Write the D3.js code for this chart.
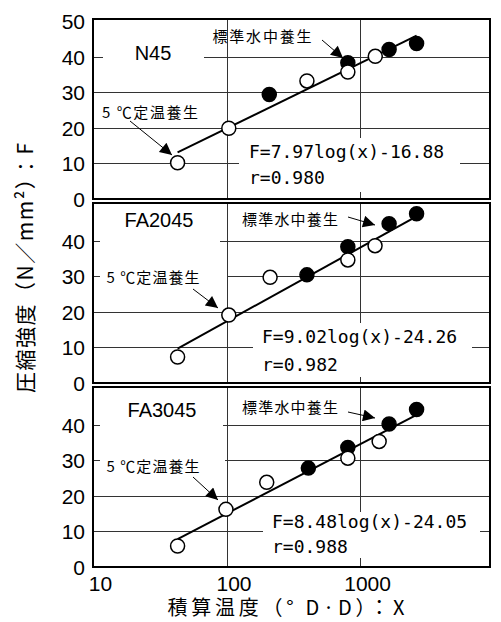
<!DOCTYPE html>
<html>
<head>
<meta charset="utf-8">
<script src="https://cdn.jsdelivr.net/npm/d3@7"></script>
<style>
  body { margin: 0; background: #fff; }
  svg { display: block; }
  .num { font-family: "Liberation Sans", Arial, sans-serif; font-size: 21px; fill: #000; }
  .jp { font-family: "Noto Sans CJK JP", sans-serif; fill: #000; }
  .eq { font-family: "DejaVu Sans Mono", monospace; font-size: 18px; fill: #000; }
</style>
</head>
<body>
<div id="chart"></div>
<script>
// panels
const panelNames = ["N45", "FA2045", "FA3045"]

// 5℃定温養生 (open circles)
const openX = [
  [43, 104, 400, 810, 1300],
  [43, 104, 212, 810, 1295],
  [43, 99, 200, 810, 1390]
]
const openY = [
  [10.2, 19.9, 33.2, 35.7, 40.1],
  [7.3, 19.1, 29.7, 34.6, 38.6],
  [5.9, 16.2, 23.8, 30.6, 35.3]
]

// 標準水中養生 (filled circles)
const fillX = [
  [209, 810, 1650, 2650],
  [400, 810, 1650, 2650],
  [410, 810, 1650, 2650]
]
const fillY = [
  [29.4, 38.3, 42.0, 43.7],
  [30.4, 38.3, 44.8, 47.6],
  [27.8, 33.6, 40.2, 44.3]
]

// regression F = a*log(x) + b  (natural log)
const coefA = [7.97, 9.02, 8.48]
const coefB = [-16.88, -24.26, -24.05]
const rValues = ["0.980", "0.982", "0.988"]
const lineX = [43, 2650]

const xTicks = [10, 100, 1000]
const yTicksTop = [0, 10, 20, 30, 40, 50]
const yTicks = [0, 10, 20, 30, 40]

const W = 501, H = 622
const left = 93, right = 490
const panelTops = [19, 203, 387]
const panelH = 180

// label / annotation layout per panel (pixels, relative to panel top)
const layout = [
  { name: [153, 34], nameBox: [103, 22, 101, 28],
    std: [262, 18, 99], stdArrow: [322, 21, 343, 39],
    low: [150, 94, 96], lowBox: null, lowArrow: [130, 102, 172, 136],
    eqBox: [239, 119, 221, 54], eq: [249, 133, 159] },
  { name: [159, 17], nameBox: [100, 3, 120, 44],
    std: [290, 17, 96], stdArrow: [348, 14, 375, 22],
    low: [153, 75, 93], lowBox: [100, 63, 127, 24], lowArrow: [193, 86, 218, 105],
    eqBox: [253, 120, 219, 54], eq: [262, 134, 162] },
  { name: [162, 23], nameBox: [100, 5, 123, 42],
    std: [290, 21, 96], stdArrow: [348, 25, 375, 31],
    low: [153, 80, 93], lowBox: [100, 67, 125, 24], lowArrow: [193, 90, 218, 113],
    eqBox: [263, 125, 217, 46], eq: [272, 135, 160] }
]

const svg = d3.select("#chart").append("svg")
  .attr("width", W).attr("height", H)

svg.append("defs").append("marker")
  .attr("id", "arrow")
  .attr("viewBox", "0 0 10 10")
  .attr("refX", 10).attr("refY", 5)
  .attr("markerWidth", 14).attr("markerHeight", 12)
  .attr("markerUnits", "userSpaceOnUse")
  .attr("orient", "auto")
  .append("path").attr("d", "M0,0L10,5L0,10Z").attr("fill", "#000")

const x = d3.scaleLog().domain([10, 9400]).range([left, right])

panelNames.forEach(function (name, i) {
  const top = panelTops[i]
  const y = d3.scaleLinear().domain([0, 50.6]).range([top + panelH, top])
  const L = layout[i]
  const g = svg.append("g")

  // grid
  const ticks = i == 0 ? yTicksTop : yTicks
  g.selectAll(".hg").data(ticks.filter(d => d > 0 && d < 50)).enter()
    .append("line")
    .attr("x1", left).attr("x2", right)
    .attr("y1", d => Math.round(y(d)) + 0.5).attr("y2", d => Math.round(y(d)) + 0.5)
    .attr("stroke", "#333").attr("stroke-width", 1)
  g.selectAll(".vg").data([100, 1000]).enter()
    .append("line")
    .attr("x1", d => Math.round(x(d)) + 0.5).attr("x2", d => Math.round(x(d)) + 0.5)
    .attr("y1", top).attr("y2", top + panelH)
    .attr("stroke", "#333").attr("stroke-width", 1)

  // white boxes behind labels
  const boxes = [L.nameBox, L.lowBox, L.eqBox].filter(b => b)
  g.selectAll(".box").data(boxes).enter()
    .append("rect")
    .attr("x", b => b[0]).attr("y", b => top + b[1])
    .attr("width", b => b[2]).attr("height", b => b[3])
    .attr("fill", "#fff")

  // y axis labels
  const ya = g.append("g")
    .attr("transform", "translate(" + left + ",0)")
    .call(d3.axisLeft(y).tickValues(ticks).tickSize(0).tickPadding(8))
  ya.select(".domain").remove()
  ya.selectAll("text").attr("class", "num").attr("font-size", null).attr("font-family", null)
    .attr("dy", "0.36em")

  // regression line
  const fx = d => coefA[i] * Math.log(d) + coefB[i]
  g.append("path")
    .datum(lineX)
    .attr("d", d3.line().x(d => x(d)).y(d => y(fx(d))))
    .attr("fill", "none").attr("stroke", "#000").attr("stroke-width", 2)

  // points
  const opens = openX[i].map((v, k) => [v, openY[i][k]])
  const fills = fillX[i].map((v, k) => [v, fillY[i][k]])
  g.selectAll(".fp").data(fills).enter()
    .append("circle")
    .attr("cx", d => x(d[0])).attr("cy", d => y(d[1])).attr("r", 7)
    .attr("fill", "#000").attr("stroke", "#000").attr("stroke-width", 1.5)
  g.selectAll(".op").data(opens).enter()
    .append("circle")
    .attr("cx", d => x(d[0])).attr("cy", d => y(d[1])).attr("r", 7)
    .attr("fill", "#fff").attr("stroke", "#000").attr("stroke-width", 1.5)

  // panel name
  g.append("text").attr("class", "num")
    .attr("x", L.name[0]).attr("y", top + L.name[1])
    .attr("dy", "0.35em").attr("text-anchor", "middle")
    .style("font-size", "20px")
    .text(name)

  // annotations
  g.append("text").attr("class", "jp")
    .attr("x", L.std[0]).attr("y", top + L.std[1])
    .attr("dy", "0.36em").attr("text-anchor", "middle")
    .style("font-size", "15px")
    .attr("textLength", L.std[2]).attr("lengthAdjust", "spacing")
    .text("標準水中養生")
  g.append("line")
    .attr("x1", L.stdArrow[0]).attr("y1", top + L.stdArrow[1])
    .attr("x2", L.stdArrow[2]).attr("y2", top + L.stdArrow[3])
    .attr("stroke", "#000").attr("stroke-width", 1)
    .attr("marker-end", "url(#arrow)")

  g.append("text").attr("class", "jp")
    .attr("x", L.low[0]).attr("y", top + L.low[1])
    .attr("dy", "0.36em").attr("text-anchor", "middle")
    .style("font-size", "15px")
    .attr("textLength", L.low[2]).attr("lengthAdjust", "spacing")
    .text("5 ℃定温養生")
  g.append("line")
    .attr("x1", L.lowArrow[0]).attr("y1", top + L.lowArrow[1])
    .attr("x2", L.lowArrow[2]).attr("y2", top + L.lowArrow[3])
    .attr("stroke", "#000").attr("stroke-width", 1)
    .attr("marker-end", "url(#arrow)")

  // equation
  const eq = "F=" + coefA[i].toFixed(2) + "log(x)-" + Math.abs(coefB[i]).toFixed(2)
  g.append("text").attr("class", "eq")
    .attr("x", L.eq[0]).attr("y", top + L.eq[1]).attr("dy", "0.36em")
    .text(eq)
  g.append("text").attr("class", "eq")
    .attr("x", L.eq[0]).attr("y", top + L.eq[2]).attr("dy", "0.36em")
    .text("r=" + rValues[i])

  // frame
  g.append("rect")
    .attr("x", left).attr("y", top).attr("width", right - left).attr("height", panelH)
    .attr("fill", "none").attr("stroke", "#000").attr("stroke-width", 2)

  if (i == 2) {
    const xa = g.append("g")
      .attr("transform", "translate(0," + (top + panelH) + ")")
      .call(d3.axisBottom(x).tickValues(xTicks).tickFormat(d3.format("d")).tickSize(0).tickPadding(9))
    xa.select(".domain").remove()
    xa.selectAll("text").attr("class", "num").attr("font-size", null).attr("font-family", null)
      .attr("dx", 7)
  }
})

// axis titles
svg.append("text").attr("class", "jp")
  .attr("x", 286).attr("y", 608).attr("dy", "0.36em")
  .attr("text-anchor", "middle")
  .style("font-size", "20px")
  .attr("textLength", 237).attr("lengthAdjust", "spacing")
  .text("積算温度（° D·D）：X")

svg.append("text").attr("class", "jp")
  .attr("transform", "translate(25,268) rotate(-90)")
  .attr("dy", "0.36em")
  .attr("text-anchor", "middle")
  .style("font-size", "21px")
  .attr("textLength", 250).attr("lengthAdjust", "spacing")
  .text("圧縮強度（N／mm²）：F")
</script>
</body>
</html>
